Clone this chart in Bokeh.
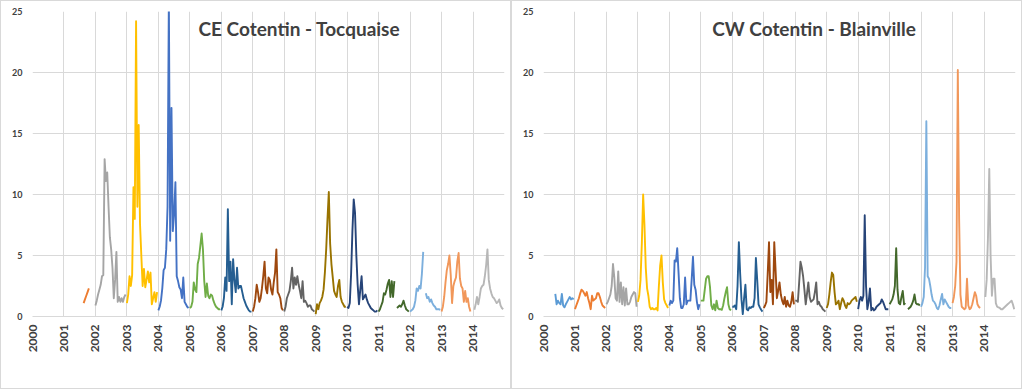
import math
from bokeh.plotting import figure
from bokeh.layouts import row
from bokeh.models import Range1d, FixedTicker, Label
from bokeh.embed import file_html
from bokeh.resources import INLINE

nan = float("nan")

# ---- categories / labels ----
years = list(range(2000, 2015))
tick_years = list(range(2000, 2016))
y_ticks = [0, 5, 10, 15, 20, 25]
year_colors = ["#5B9BD5", "#ED7D31", "#A5A5A5", "#FFC000", "#4472C4", "#70AD47",
               "#255E91", "#9E480E", "#636363", "#997300", "#264478", "#43682B",
               "#7CAFDD", "#F1975A", "#B7B7B7"]
titles = ["CE Cotentin - Tocquaise", "CW Cotentin - Blainville"]
samples_per_year = 24  # twice-monthly readings

# ---- CE Cotentin - Tocquaise (one list per year, 24 readings) ----
ce_2000 = [nan] * 24
ce_2001 = [nan] * 15 + [1.1, 1.4, 1.7, 2.0, 2.3] + [nan] * 4
ce_2002 = [0.9, 1.3, 1.8, 2.2, 2.6, 3.3, 3.4, 12.9, 11.1, 11.8, 9.0, 6.5, 5.5, 4.0, 1.5, 3.0, 5.3, 1.2, 1.6, 1.2, 1.5, 1.2, 1.6, 1.8]
ce_2003 = [1.1, 1.8, 3.3, 2.5, 3.4, 10.6, 8.0, 24.2, 9.0, 15.7, 7.6, 5.0, 2.5, 3.9, 2.4, 3.0, 3.7, 2.8, 3.6, 1.0, 1.5, 2.0, 1.2, 2.0]
ce_2004 = [0.5, 0.8, 1.3, 2.3, 3.8, 4.0, 5.5, 9.0, 26.0, 6.2, 17.1, 7.0, 8.4, 11.0, 3.3, 2.9, 2.4, 2.2, 1.5, 3.2, 1.2, 1.0, 0.8, 0.7]
ce_2005 = [0.7, 0.8, 1.2, 2.8, 2.2, 2.0, 4.3, 4.8, 5.8, 6.8, 5.5, 2.9, 1.6, 2.7, 1.7, 1.5, 1.8, 1.7, 1.3, 1.0, 0.8, 0.7, 0.6, 0.6]
ce_2006 = [0.5, 0.8, 1.5, 3.2, 2.1, 8.8, 2.9, 4.5, 1.0, 4.7, 3.0, 2.0, 4.0, 2.3, 2.5, 2.5, 2.0, 1.5, 1.2, 0.9, 0.7, 0.5, 0.4, 0.4]
ce_2007 = [0.4, 0.8, 1.5, 2.6, 2.0, 1.2, 1.5, 2.3, 3.3, 4.5, 2.3, 1.9, 3.2, 3.0, 2.2, 1.8, 2.8, 3.6, 5.5, 2.0, 1.8, 1.5, 0.7, 0.5]
ce_2008 = [0.4, 0.8, 1.5, 1.8, 2.1, 2.9, 4.0, 2.3, 3.2, 2.6, 3.3, 2.6, 2.1, 1.5, 2.9, 1.2, 1.3, 1.1, 0.8, 0.9, 0.9, 0.6, 0.5, 0.4]
ce_2009 = [0.2, 1.0, 0.6, 1.1, 1.3, 1.6, 2.2, 3.6, 5.5, 8.0, 10.2, 6.0, 4.3, 3.2, 2.1, 1.8, 1.6, 2.5, 3.0, 1.6, 1.2, 1.0, 0.8, 0.8]
ce_2010 = [0.8, 0.7, 1.1, 3.5, 7.0, 9.6, 8.5, 5.0, 2.6, 1.0, 2.2, 3.3, 1.4, 1.6, 1.8, 1.4, 1.1, 0.9, 0.7, 0.6, 0.5, 0.4, 0.4, 0.5]
ce_2011 = [0.4, 0.6, 0.9, 1.2, 1.9, 1.8, 2.2, 2.7, 3.0, 1.6, 2.9, 1.6, 2.9, nan, 0.7, 0.8, 0.9, 0.8, 1.0, 1.3, 0.9, 0.6, 0.5, 0.4]
ce_2012 = [0.4, 0.5, 0.6, 0.8, 1.3, 2.3, 2.1, 2.5, 2.3, 3.5, 5.3, nan, 1.9, 1.5, 1.6, 1.2, 1.4, 1.1, 0.9, 0.8, 0.6, 0.6, 0.6, 0.55]
ce_2013 = [0.4, 0.8, 1.6, 2.8, 3.8, 4.3, 5.0, 3.4, 1.1, 2.5, 2.9, 3.2, 4.5, 5.2, 3.1, 2.5, 2.3, 1.2, 2.1, 1.2, 1.5, 0.8, 0.4, nan]
ce_2014 = [nan, 0.55, 1.0, 1.6, 1.0, 1.6, 2.3, 2.5, 2.6, 3.3, 4.2, 5.5, 3.0, 2.3, 1.9, 1.6, 1.5, 1.3, 1.1, 1.2, 1.4, 0.9, 0.7, 0.6]

# ---- CW Cotentin - Blainville ----
cw_2000 = [nan] * 9 + [1.85, 1.0, 1.3, 1.1, 1.0, 1.85, 0.9, 0.75, 1.0, 1.2, 1.4, 1.6, 1.4, 1.5, 1.4]
cw_2001 = [0.6, 0.9, 1.2, 1.5, 1.9, 2.2, 2.1, 1.9, 1.7, 2.0, 1.5, 1.1, 0.6, 1.7, 1.3, 1.4, 1.5, 1.9, 1.9, 1.6, 1.2, 0.9, 0.8, 0.7]
cw_2002 = [1.0, 1.2, 1.5, 1.8, 2.5, 4.3, 3.2, 1.5, 1.3, 3.7, 1.2, 2.8, 1.0, 2.4, 0.9, 2.3, 1.0, 1.0, 1.2, 1.6, 1.8, 2.0, 1.9, 0.8]
cw_2003 = [1.2, 1.7, 3.0, 6.0, 10.0, 7.5, 4.0, 2.3, 1.7, 0.8, 0.6, 0.7, 0.6, 0.6, 0.7, 0.5, 2.5, 4.2, 5.0, 2.8, 1.4, 1.1, 0.9, 0.7]
cw_2004 = [0.9, 1.3, 1.1, 1.3, 4.6, 4.5, 5.6, 3.6, 1.5, 0.7, 0.7, 1.0, 3.2, 1.0, 1.3, 1.3, 1.3, 3.0, 4.9, 2.6, 2.2, 1.2, 0.6, 1.0]
cw_2005 = [1.3, 1.3, 1.3, 2.2, 3.1, 3.3, 3.3, 2.4, 0.9, 0.6, 1.0, 0.5, 1.3, 0.7, 0.6, 0.6, 0.55, 0.9, 1.5, 2.0, 2.4, 1.0, 0.6, 0.5]
cw_2006 = [0.8, 0.8, 0.9, 0.6, 2.5, 6.1, 3.5, 1.4, 0.2, 1.5, 2.6, 0.6, 0.5, 0.75, 0.7, 0.8, 0.8, 1.5, 4.8, 3.0, 1.0, 0.75, 0.55, 0.4]
cw_2007 = [0.7, 0.9, 1.2, 3.5, 6.1, 2.0, 3.0, 1.0, 6.1, 3.8, 1.5, 2.1, 2.8, 1.8, 1.3, 1.0, 1.6, 0.8, 1.3, 0.9, 0.8, 1.2, 2.0, 1.0]
cw_2008 = [1.3, 1.3, 1.2, 2.8, 4.5, 4.0, 3.3, 2.2, 1.0, 1.9, 2.8, 1.6, 1.2, 1.3, 1.4, 2.0, 2.8, 1.0, 1.2, 0.9, 0.8, 0.6, 0.5, 0.4]
cw_2009 = [0.7, 1.0, 1.8, 2.8, 3.6, 3.4, 2.0, 1.0, 1.1, 1.3, 0.6, 1.1, 1.5, 1.3, 0.9, 0.7, 1.1, 1.0, 1.1, 1.3, 1.4, 1.5, 1.6, 1.2]
cw_2010 = [0.6, 1.3, 1.6, 1.3, 1.7, 8.3, 2.5, 0.6, 1.2, 2.3, 0.5, 0.7, 0.5, 0.6, 0.8, 0.9, 1.0, 1.1, 1.4, 1.2, 0.9, 0.6, 0.6, 0.6]
cw_2011 = [1.0, 1.2, 1.4, 1.8, 2.5, 5.6, 2.2, 1.1, 1.0, 1.6, 2.1, 1.0, 1.1, nan, 0.6, 0.7, 0.8, 1.0, 1.3, 1.8, 1.1, 1.0, 1.0, 0.9]
cw_2012 = [0.8, 1.1, 1.6, 4.0, 16.0, 3.3, 3.1, 2.5, 1.8, 1.3, 1.2, 1.0, 0.7, 0.6, 0.9, 1.4, 1.85, 1.0, 1.4, 1.2, 1.0, 0.8, 0.7, 0.7]
cw_2013 = [1.1, 1.6, 2.5, 4.5, 20.2, 8.0, 1.8, 0.8, 0.7, 0.6, 0.7, 3.1, 0.9, 0.6, 0.7, 1.0, 1.5, 2.0, 1.7, 1.0, 0.8, 0.7, nan, nan]
cw_2014 = [nan, 1.6, 3.0, 6.5, 12.1, 5.0, 1.7, 3.1, 3.1, 1.1, 0.8, 0.75, 0.7, 0.6, 0.6, 0.7, 0.8, 0.9, 1.0, 1.1, 1.2, 1.3, 1.0, 0.6]

ce_series = [ce_2000, ce_2001, ce_2002, ce_2003, ce_2004, ce_2005, ce_2006, ce_2007,
             ce_2008, ce_2009, ce_2010, ce_2011, ce_2012, ce_2013, ce_2014]
cw_series = [cw_2000, cw_2001, cw_2002, cw_2003, cw_2004, cw_2005, cw_2006, cw_2007,
             cw_2008, cw_2009, cw_2010, cw_2011, cw_2012, cw_2013, cw_2014]

FONT = "Lato"
TXT = "#404040"
GRID = "#d9d9d9"


def make_panel(series, title, title_x, border_left, border_right):
    p = figure(width=511, height=389, output_backend="svg", toolbar_location=None,
               x_range=Range1d(2000, 2015), y_range=Range1d(0, 25),
               min_border_left=border_left, min_border_right=border_right,
               min_border_top=10, min_border_bottom=74,
               styles={"border": "1px solid #d9d9d9", "box-sizing": "border-box"})
    p.outline_line_color = None
    p.background_fill_color = "white"
    p.border_fill_color = "white"

    for yr, vals, col in zip(years, series, year_colors):
        xs = [yr + i / samples_per_year for i in range(len(vals))]
        p.line(xs, vals, line_color=col, line_width=1.9, line_join="round")

    # x axis
    xa = p.xaxis[0]
    xa.ticker = FixedTicker(ticks=tick_years)
    xa.major_label_overrides = {2015: ""}
    xa.major_label_orientation = math.pi / 2
    xa.major_label_text_font = FONT
    xa.major_label_text_font_size = "12px"
    xa.major_label_text_font_style = "bold"
    xa.major_label_text_color = TXT
    xa.major_label_standoff = 8
    xa.axis_line_color = GRID
    xa.major_tick_line_color = None
    xa.minor_tick_line_color = None
    xa.major_tick_out = 0
    xa.major_tick_in = 0

    # y axis
    ya = p.yaxis[0]
    ya.ticker = FixedTicker(ticks=y_ticks)
    ya.major_label_text_font = FONT
    ya.major_label_text_font_size = "9px"
    ya.major_label_text_font_style = "bold"
    ya.major_label_text_color = TXT
    ya.major_label_standoff = 10
    ya.axis_line_color = None
    ya.major_tick_line_color = None
    ya.minor_tick_line_color = None
    ya.major_tick_out = 0
    ya.major_tick_in = 0

    p.xgrid.ticker = FixedTicker(ticks=tick_years)
    p.xgrid.grid_line_color = GRID
    p.ygrid.ticker = FixedTicker(ticks=y_ticks)
    p.ygrid.grid_line_color = GRID

    p.add_layout(Label(x=title_x, y=23.6, text=title, text_align="center",
                       text_baseline="middle", text_font=FONT,
                       text_font_size="19px", text_font_style="bold",
                       text_color=TXT))
    return p


p1 = make_panel(ce_series, titles[0], 2008.48, 31, 8)
p2 = make_panel(cw_series, titles[1], 2008.6, 31, 8)
layout = row(p1, p2)

open("out.html", "w").write(file_html(layout, INLINE))
